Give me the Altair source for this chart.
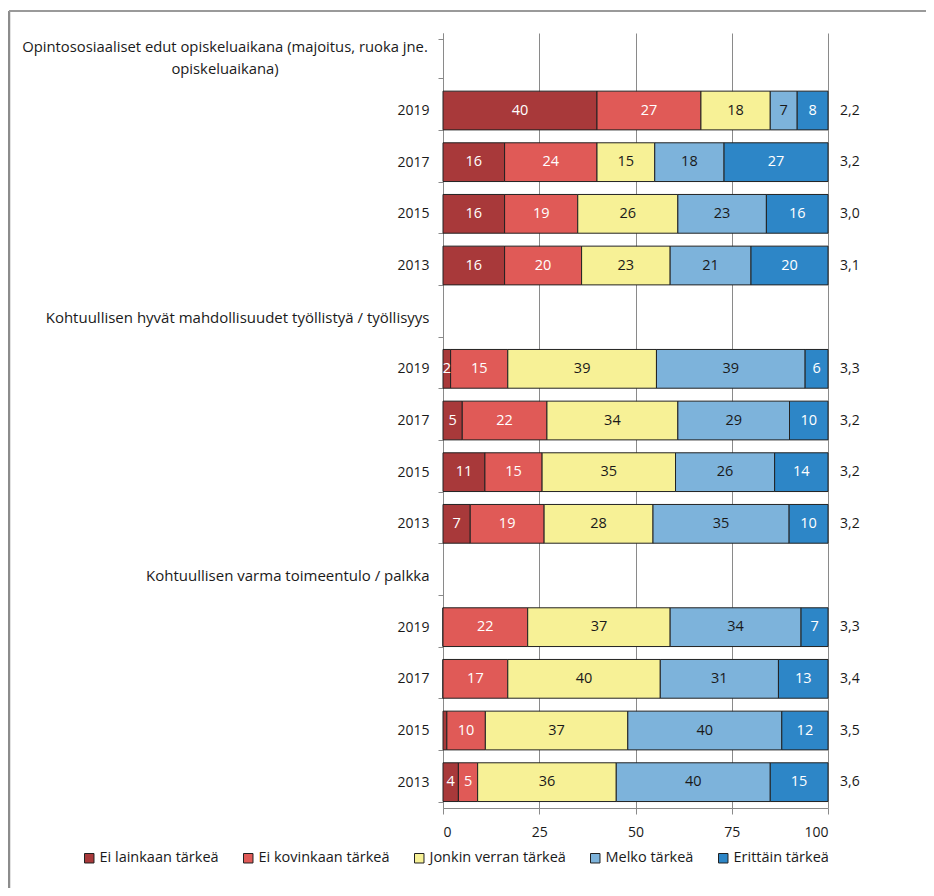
import altair as alt
import pandas as pd

categories = ["Ei lainkaan tärkeä", "Ei kovinkaan tärkeä", "Jonkin verran tärkeä",
              "Melko tärkeä", "Erittäin tärkeä"]
colors = ["#A8393A", "#E05A57", "#F7F196", "#7DB3DB", "#2D86C7"]
label_colors = ["white", "white", "#1a1a1a", "#1a1a1a", "white"]

headers = [
    "Opintososiaaliset edut opiskeluaikana (majoitus, ruoka jne.\nopiskeluaikana)",
    "Kohtuullisen hyvät mahdollisuudet työllistyä / työllisyys",
    "Kohtuullisen varma toimeentulo / palkka",
]
years = ["2019", "2017", "2015", "2013"]

# 12 bars: group1 (2019..2013), group2, group3
ei_lainkaan = [40, 16, 16, 16, 2, 5, 11, 7, 0, 0, 1, 4]
ei_kovinkaan = [27, 24, 19, 20, 15, 22, 15, 19, 22, 17, 10, 5]
jonkin_verran = [18, 15, 26, 23, 39, 34, 35, 28, 37, 40, 37, 36]
melko = [7, 18, 23, 21, 39, 29, 26, 35, 34, 31, 40, 40]
erittain = [8, 27, 16, 20, 6, 10, 14, 10, 7, 13, 12, 15]
averages = ["2,2", "3,2", "3,0", "3,1", "3,3", "3,2", "3,2", "3,2",
            "3,3", "3,4", "3,5", "3,6"]

series = [ei_lainkaan, ei_kovinkaan, jonkin_verran, melko, erittain]

# row ids (15 rows incl. 3 header rows)
row_ids, row_labels, bar_rows, header_rows = [], [], [], []
for g in range(3):
    rid = f"r{len(row_ids):02d}"
    row_ids.append(rid)
    header_rows.append(rid)
    row_labels.append("" if g == 0 else headers[g])
    for y in years:
        rid = f"r{len(row_ids):02d}"
        row_ids.append(rid)
        row_labels.append(y)
        bar_rows.append(rid)

records = []
for i, rid in enumerate(bar_rows):
    for c, vals in enumerate(series):
        records.append({"row": rid, "cat": categories[c], "order": c,
                        "value": vals[i], "label": str(vals[i]),
                        "tcolor": label_colors[c]})
df = pd.DataFrame(records)
df_avg = pd.DataFrame({"row": bar_rows, "avg": averages})
df_h1 = pd.DataFrame({"row": [row_ids[0]], "text": [headers[0]]})

label_map = "{" + ",".join(f"'{r}':'{l}'" for r, l in zip(row_ids, row_labels)) + "}"
header_list = "[" + ",".join(f"'{r}'" for r in header_rows) + "]"

FONT = "Open Sans"
W, H = 385, 775
NUM_SIZE = 14
BAR_SIZE = 14.5
HEAD_SIZE = 15

yscale = alt.Scale(domain=row_ids, paddingInner=0.25, paddingOuter=0.125)
y_enc = alt.Y("row:N", scale=yscale, sort=row_ids,
              axis=alt.Axis(title=None, labelExpr=f"{label_map}[datum.value]",
                            tickBand="extent", tickSize=5, tickColor="#8a8a8a",
                            domainColor="#8a8a8a", labelFont=FONT,
                            labelFontSize={"condition": {"test": f"indexof({header_list}, datum.value) >= 0",
                                                         "value": HEAD_SIZE},
                                           "value": NUM_SIZE},
                            labelColor="#1a1a1a", labelLimit=700, labelPadding=9,
                            grid=False))

base = alt.Chart(df).transform_stack(
    stack="value", groupby=["row"], sort=[alt.SortField("order", order="ascending")],
    as_=["x0", "x1"], offset="normalize"
).transform_calculate(mid="(datum.x0 + datum.x1) / 2")

bars = base.mark_bar(stroke="#222222", strokeWidth=1).encode(
    x=alt.X("x0:Q", scale=alt.Scale(domain=[0, 1]),
            axis=alt.Axis(title=None, values=[0, 0.25, 0.5, 0.75, 1],
                          labelExpr="format(datum.value * 100, 'd')",
                          grid=True, gridColor="#8a8a8a", gridWidth=1,
                          tickSize=6, tickColor="#8a8a8a", domainColor="#8a8a8a",
                          labelFont=FONT, labelFontSize=NUM_SIZE, labelColor="#1a1a1a",
                          labelPadding=11)),
    x2="x1:Q",
    y=y_enc,
    color=alt.Color("cat:N", scale=alt.Scale(domain=categories, range=colors),
                    legend=alt.Legend(title=None, orient="none", direction="horizontal",
                                      legendX=-361, legendY=818,
                                      symbolType="square", symbolSize=90,
                                      symbolStrokeColor="#222222", symbolStrokeWidth=1,
                                      labelFont=FONT, labelFontSize=14.5,
                                      labelColor="#1a1a1a", columnPadding=22,
                                      labelOffset=3, labelLimit=300)),
)

texts = base.transform_filter("datum.value >= 2").mark_text(
    font=FONT, fontSize=BAR_SIZE, baseline="middle"
).encode(
    x="mid:Q",
    y=alt.Y("row:N", scale=yscale, sort=row_ids),
    text="label:N",
    color=alt.Color("tcolor:N", scale=None),
)

avg_text = alt.Chart(df_avg).mark_text(
    font=FONT, fontSize=NUM_SIZE, align="left", baseline="middle", color="#1a1a1a"
).encode(
    x=alt.value(397),
    y=alt.Y("row:N", scale=yscale, sort=row_ids),
    text="avg:N",
)

h1_text = alt.Chart(df_h1).mark_text(
    font=FONT, fontSize=14.8, align="center", baseline="middle", color="#1a1a1a",
    lineBreak="\n", lineHeight=22, dy=-11
).encode(
    x=alt.value(-218),
    y=alt.Y("row:N", scale=yscale, sort=row_ids),
    text="text:N",
)

frame_df = pd.DataFrame({"k": [0]})
frame_left = alt.Chart(frame_df).mark_rule(color="#8c8c8c", strokeWidth=2.5).encode(
    x=alt.value(-434), y=alt.value(-22), y2=alt.value(900))
frame_top = alt.Chart(frame_df).mark_rule(color="#9a9a9a", strokeWidth=2).encode(
    x=alt.value(-434), x2=alt.value(600), y=alt.value(-22))

chart = alt.layer(bars, texts, avg_text, h1_text, frame_left, frame_top).properties(
    width=W, height=H,
    autosize=alt.AutoSizeParams(type="none"),
    padding={"left": 435, "top": 25, "right": 98, "bottom": 80},
).configure_view(strokeWidth=0)

chart.save("out.html", embed_options={"renderer": "svg", "actions": False})
